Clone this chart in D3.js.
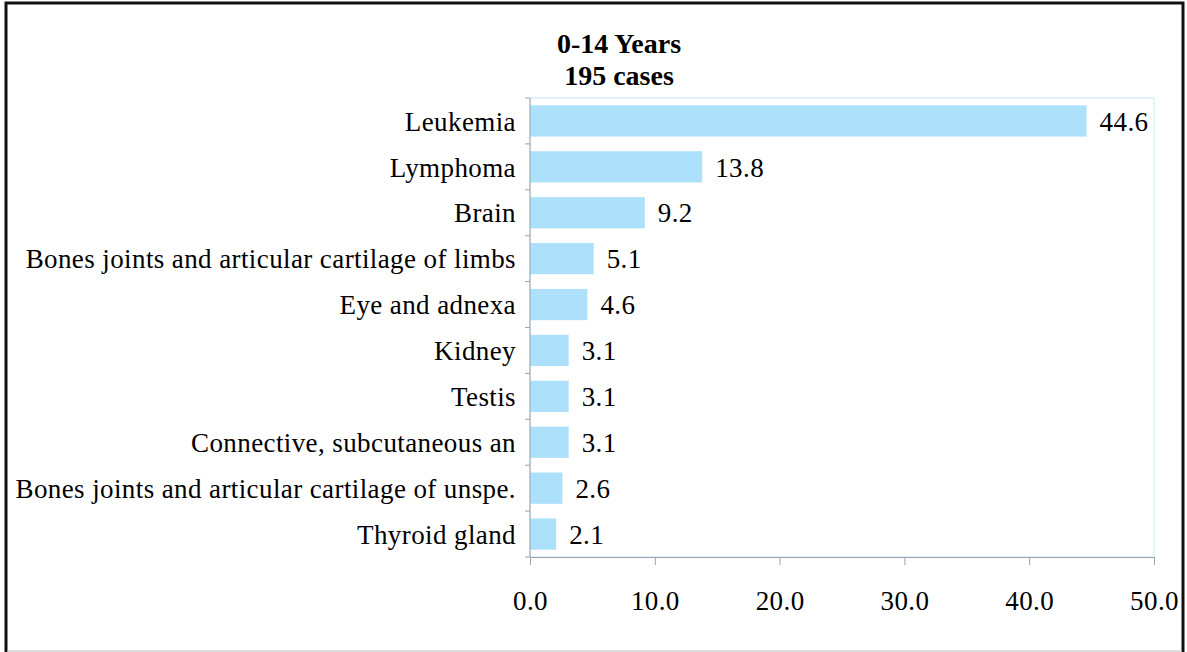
<!DOCTYPE html>
<html>
<head>
<meta charset="utf-8">
<script src="https://cdn.jsdelivr.net/npm/d3@7"></script>
<style>
  body { margin: 0; background: #fff; }
  text { font-family: "Liberation Serif", "Times New Roman", serif; }
</style>
</head>
<body>
<svg id="chart" width="1187" height="652"></svg>
<script>
// data
const categories = [
  "Leukemia",
  "Lymphoma",
  "Brain",
  "Bones joints and articular cartilage of limbs",
  "Eye and adnexa",
  "Kidney",
  "Testis",
  "Connective, subcutaneous an",
  "Bones joints and articular cartilage of unspe.",
  "Thyroid gland"
];
const percents = [44.6, 13.8, 9.2, 5.1, 4.6, 3.1, 3.1, 3.1, 2.6, 2.1];
const xTicks = [0, 10, 20, 30, 40, 50];
const titleLines = ["0-14 Years", "195 cases"];

const width = 1187;
const height = 652;
const margin = { top: 98, left: 530, bottom: 95, right: 33 };
const fontSize = "27px";
const spacing = "0.4px";

const svg = d3.select("#chart");

// outer frame
svg.append("rect")
  .attr("x", 6).attr("y", 3)
  .attr("width", 1177).attr("height", 660)
  .attr("fill", "none")
  .attr("stroke", "#111")
  .attr("stroke-width", 3);
svg.append("line")
  .attr("x1", 7).attr("x2", 1182)
  .attr("y1", 651).attr("y2", 651)
  .attr("stroke", "#bbb");

const x = d3.scaleLinear().domain([0, 50]).range([margin.left, width - margin.right]);
const y = d3.scaleBand()
  .domain(categories)
  .range([margin.top, height - margin.bottom])
  .paddingInner(0.32)
  .paddingOuter(0.16);

// plot area border
svg.append("rect")
  .attr("x", x(0)).attr("y", margin.top)
  .attr("width", x(50) - x(0))
  .attr("height", height - margin.bottom - margin.top)
  .attr("fill", "none")
  .attr("stroke", "#c6e8fa")
  .attr("stroke-width", 1);

// bars
svg.selectAll(".bar")
  .data(percents)
  .join("rect")
  .attr("class", "bar")
  .attr("x", x(0))
  .attr("y", (v, i) => y(categories[i]))
  .attr("width", v => x(v) - x(0))
  .attr("height", y.bandwidth())
  .attr("fill", "#ade0fa");

// value labels
svg.selectAll(".val")
  .data(percents)
  .join("text")
  .attr("class", "val")
  .attr("x", v => x(v) + 13)
  .attr("y", (v, i) => y(categories[i]) + y.bandwidth() / 2)
  .attr("dy", "0.36em")
  .attr("font-size", fontSize)
  .attr("letter-spacing", spacing)
  .attr("fill", "#000")
  .text(v => v.toFixed(1));

// y axis: band boundary ticks on the left
const yAxisG = svg.append("g");
yAxisG.append("line")
  .attr("x1", x(0)).attr("x2", x(0))
  .attr("y1", margin.top).attr("y2", height - margin.bottom)
  .attr("stroke", "#9aa4ad");
const bounds = d3.range(categories.length + 1).map(i => margin.top + i * (height - margin.bottom - margin.top) / categories.length);
yAxisG.selectAll(".yt")
  .data(bounds)
  .join("line")
  .attr("x1", x(0) - 5).attr("x2", x(0))
  .attr("y1", d => d).attr("y2", d => d)
  .attr("stroke", "#9aa4ad");
yAxisG.selectAll(".cat")
  .data(categories)
  .join("text")
  .attr("x", x(0) - 14)
  .attr("y", d => y(d) + y.bandwidth() / 2)
  .attr("dy", "0.36em")
  .attr("text-anchor", "end")
  .attr("font-size", fontSize)
  .attr("letter-spacing", spacing)
  .text(d => d);

// x axis
const xAxis = d3.axisBottom(x)
  .tickValues(xTicks)
  .tickFormat(d3.format(".1f"))
  .tickSize(8)
  .tickPadding(26);
const xg = svg.append("g")
  .attr("transform", `translate(0,${height - margin.bottom})`)
  .call(xAxis);
xg.select(".domain").attr("stroke", "#9aa4ad");
xg.selectAll(".tick line").attr("stroke", "#9aa4ad");
xg.selectAll(".tick text")
  .attr("font-size", fontSize)
  .attr("letter-spacing", spacing)
  .attr("fill", "#000");

// title
svg.append("text")
  .attr("x", 619)
  .attr("y", 53)
  .attr("text-anchor", "middle")
  .attr("font-size", "28px")
  .attr("font-weight", "bold")
  .selectAll("tspan")
  .data(titleLines)
  .join("tspan")
  .attr("x", 619)
  .attr("dy", (d, i) => i === 0 ? 0 : 32)
  .text(d => d);
</script>
</body>
</html>
